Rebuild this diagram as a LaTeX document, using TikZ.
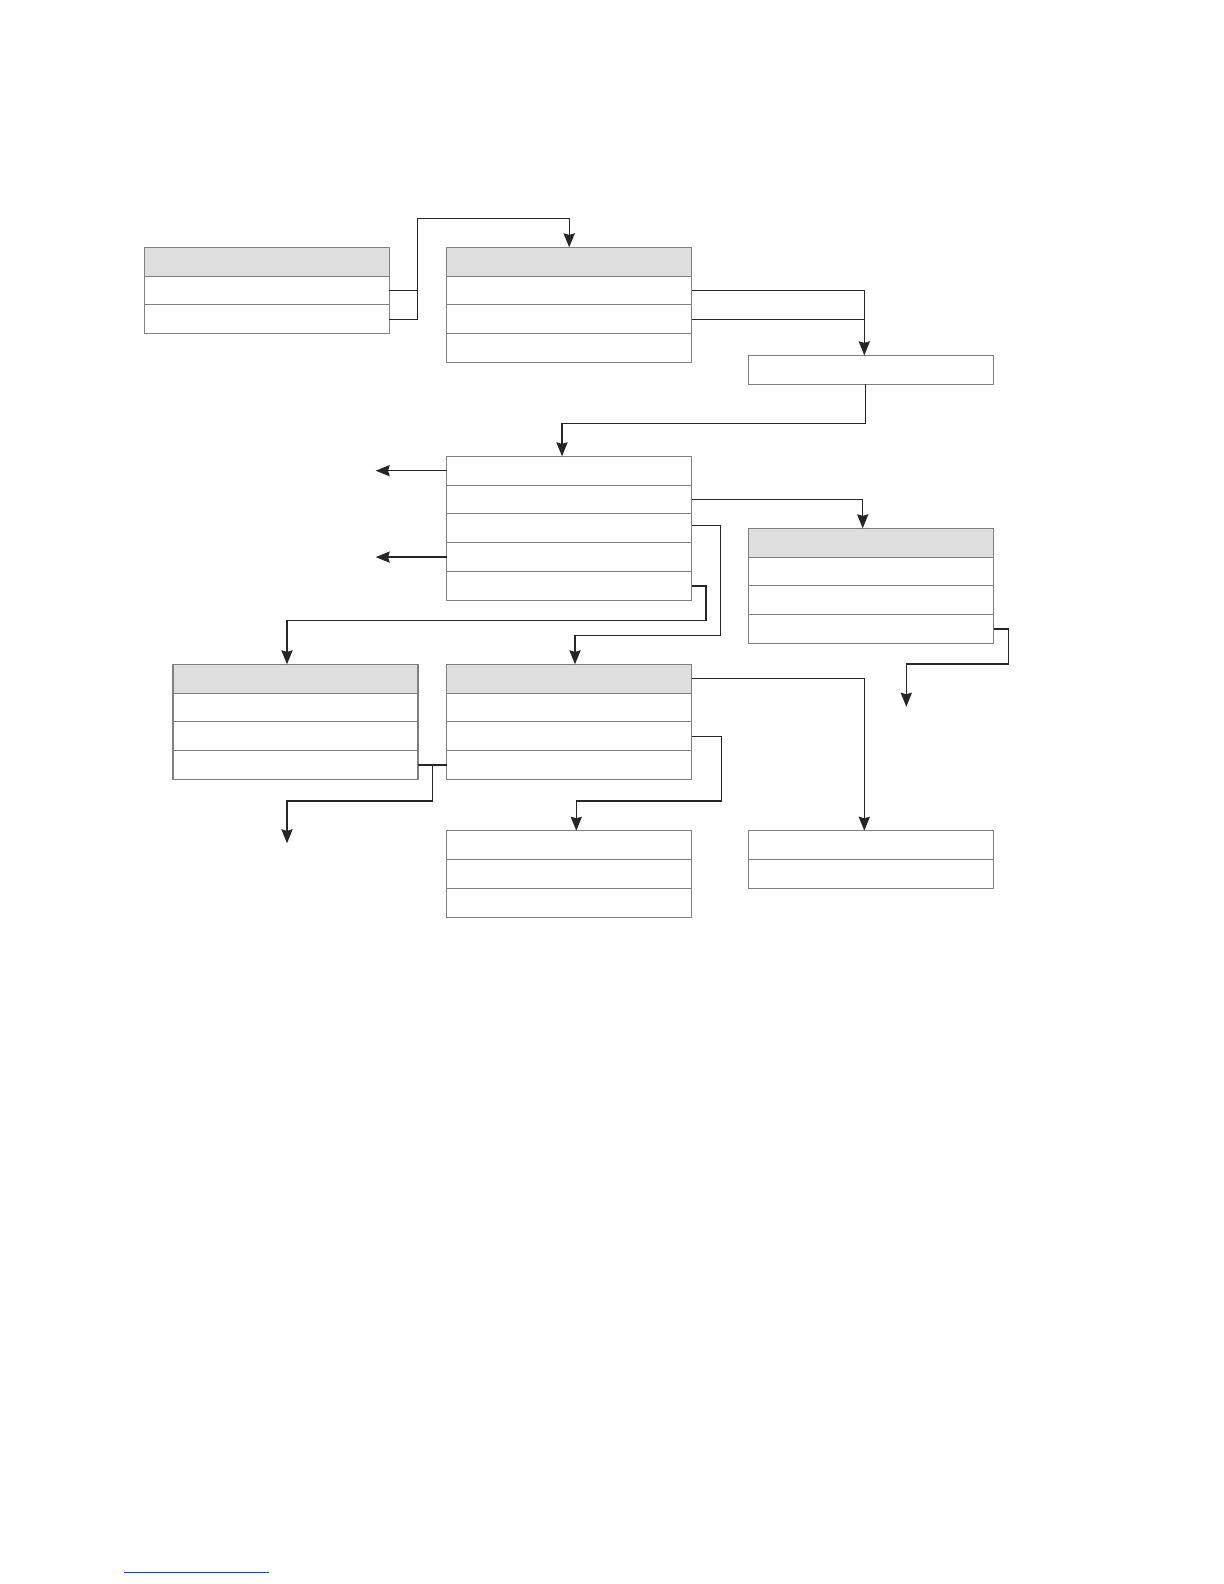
\documentclass[tikz,border=0pt]{standalone}
\usepackage{xcolor}
\usetikzlibrary{positioning, arrows.meta}
\definecolor{boxgray}{gray}{0.5}
\definecolor{headgray}{gray}{0.87}
\definecolor{rulecol}{RGB}{40,60,200}
\tikzset{
	cell/.style={draw=boxgray, line width=0.55pt, minimum width=122.5bp, minimum height=14.4bp, inner sep=0pt, outer sep=0pt},
	head/.style={cell, fill=headgray},
	link/.style={draw=black!85, line width=0.7pt},
	arrow/.style={link, -{Stealth[length=7bp, width=5.6bp, inset=0.8bp]}}
}
\begin{document}
\begin{tikzpicture}[x=0.5bp, y=-0.5bp]
		\useasboundingbox (0,0) rectangle (1224,1584);

		% top row
		\node[head] (a0) at (266.8,261.7) {};
		\node[cell, below=0pt of a0] (a1) {};
		\node[cell, below=0pt of a1] (a2) {};

		\node[head] (b0) at (569.2,261.7) {};
		\node[cell, below=0pt of b0] (b1) {};
		\node[cell, below=0pt of b1] (b2) {};
		\node[cell, below=0pt of b2] (b3) {};

		\node[cell] (c0) at (871.3,369.7) {};

		% middle row
		\node[cell] (d1) at (569.2,470.7) {};
		\node[cell, below=0pt of d1] (d2) {};
		\node[cell, below=0pt of d2] (d3) {};
		\node[cell, below=0pt of d3] (d4) {};
		\node[cell, below=0pt of d4] (d5) {};

		\node[head] (e0) at (871.3,542.7) {};
		\node[cell, below=0pt of e0] (e1) {};
		\node[cell, below=0pt of e1] (e2) {};
		\node[cell, below=0pt of e2] (e3) {};

		% lower row
		\node[head] (f0) at (295.5,678.7) {};
		\node[cell, below=0pt of f0] (f1) {};
		\node[cell, below=0pt of f1] (f2) {};
		\node[cell, below=0pt of f2] (f3) {};

		\node[head] (g0) at (569.2,678.7) {};
		\node[cell, below=0pt of g0] (g1) {};
		\node[cell, below=0pt of g1] (g2) {};
		\node[cell, below=0pt of g2] (g3) {};

		\node[cell] (h0) at (569.2,845.1) {};
		\node[cell, below=0pt of h0] (h1) {};
		\node[cell, below=0pt of h1] (h2) {};

		\node[cell] (i0) at (871.3,845.1) {};
		\node[cell, below=0pt of i0] (i1) {};

		% bend points and free ends
		\coordinate (j1) at (417.3,218.3);
		\coordinate (c0in) at ([xshift=-3.5bp]c0.north);
		\coordinate (c0out) at ([xshift=-2.8bp]c0.south);
		\coordinate (d1in) at ([xshift=-3.6bp]d1.north);
		\coordinate (d3out) at ([yshift=1.3bp]d3.east);
		\coordinate (e0in) at ([xshift=-4.3bp]e0.north);
		\coordinate (f0in) at ([xshift=-4.25bp]f0.north);
		\coordinate (g0in) at ([xshift=2.9bp]g0.north);
		\coordinate (h0in) at ([xshift=3.55bp]h0.north);
		\coordinate (i0in) at ([xshift=-3.5bp]i0.north);
		\coordinate (j6) at (720.7,635.7);
		\coordinate (j7) at (706,620.7);
		\coordinate (j8) at (1008.3,664);
		\coordinate (j10) at (721.5,801);
		\coordinate (j11) at (432.7,801);
		\coordinate (out1) at (375.7,470.7);
		\coordinate (out2) at (375.7,557);
		\coordinate (out3) at (906.3,706.7);
		\coordinate (out4) at (287,843.3);

		% connectors
		\draw[link] (a2.east) -| (j1);
		\draw[arrow] (a1.east) -| (j1) -| (b0.north);

		\draw[link] (b2.east) -- (b2.east -| c0in);
		\draw[arrow] (b1.east) -| (c0in);

		\draw[arrow] (c0out) -- ++(0,39.3) -| (d1in);

		\draw[arrow] (d1.west) -- (d1.west -| out1);
		\draw[arrow] (d4.west) -- (d4.west -| out2);
		\draw[arrow] (d2.east) -| (e0in);
		\draw[arrow] (d3out) -| (j6) -| (g0in);
		\draw[arrow] (d5.east) -| (j7) -| (f0in);

		\draw[arrow] (e3.east) -| (j8) -| (out3);

		\draw[arrow] (g0.east) -| (i0in);
		\draw[arrow] (g2.east) -| (j10) -| (h0in);

		\draw[link] (f3.east) -- (g3.west);
		\draw[arrow] (j11 |- f3.east) -- (j11) -| (out4);

		% footnote rule
		\draw[rulecol, line width=0.5pt] (124,1572) -- (269,1572);
	\end{tikzpicture}
\end{document}
